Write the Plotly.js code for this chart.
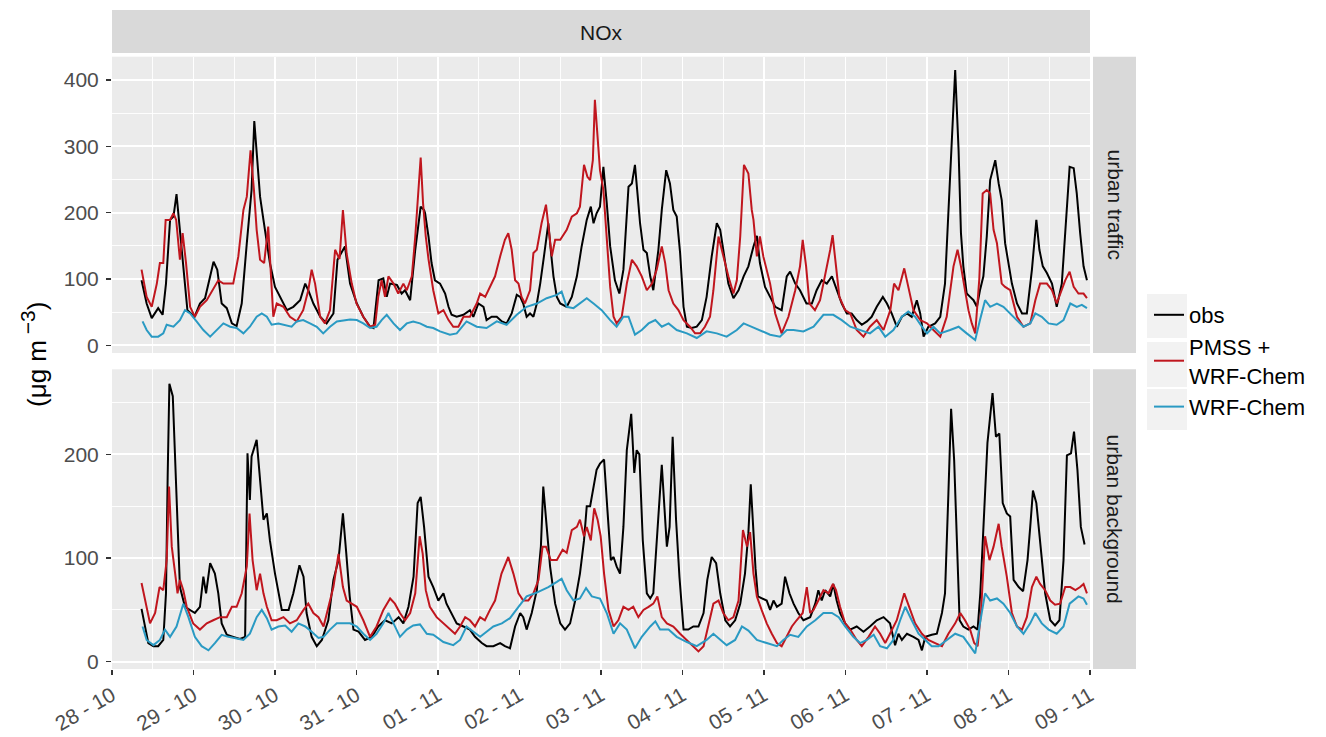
<!DOCTYPE html>
<html>
<head>
<meta charset="utf-8">
<script src="https://cdn.plot.ly/plotly-3.0.1.min.js"></script>
<style>html,body{margin:0;padding:0;background:#fff;}#chart{width:1326px;height:737px;}</style>
</head>
<body>
<div id="chart"></div>
<script>
// ---- Data (hours since 28-10 00:00, NOx in µg m-3) ----
const seriesNames = ["obs", "PMSS +<br>WRF-Chem", "WRF-Chem"];
const panelNames = ["urban traffic", "urban background"];
const dayLabels = ["28 - 10","29 - 10","30 - 10","31 - 10","01 - 11","02 - 11","03 - 11","04 - 11","05 - 11","06 - 11","07 - 11","08 - 11","09 - 11"];

// urban traffic: obs
const trafficObsHours = [8.7,10.2,11.7,12.7,13.6,14.9,15.9,17.1,18.1,19,19.8,20.8,22.2,24.3,25.9,27.4,28.4,29.9,31,32.3,33.8,35.3,36.7,38.2,39.7,41.1,41.9,42.6,43.6,44.6,45.6,46.5,48,51.5,53.4,55.4,56.9,57.8,59.3,61.3,63.2,65.2,66.4,67.4,68.6,70.1,72.1,74,76,77,78.5,79.9,80.9,81.9,83.9,85.3,86.3,87.8,89.3,90.9,91.9,92.2,93.2,94.1,95.1,96.6,98.1,99.1,100,101.5,103.5,105.4,106.4,107.9,109.4,110.3,111.8,113.3,114.8,116.2,117.7,119.2,120.2,121.1,122.1,123.1,124.1,125.1,126.1,127.2,128.5,129.2,130,131,132,133.9,135.4,136.9,138.3,139.8,141,141.8,142.7,143.7,144.7,145.7,146.7,148.1,149.4,150.6,152.1,153.1,154,155,155.5,156.5,157.5,158.5,159.4,160.9,161.9,163.2,164.3,165.3,166.3,167.3,168.3,169.3,170.7,172.2,173.7,175.1,176.6,178.1,179.1,180,181.5,183,184.5,186,187.4,188.9,189.9,190.8,192.3,193.8,195.3,197.2,198.7,199.7,201.2,202.6,204.5,206.1,207.5,209,210.5,212,213.4,214.9,216.4,217.8,219.3,220.8,222.3,223.7,225.2,227,228.2,229.6,231.1,232.6,234.1,235.5,237,238,239,240.4,242.4,243.9,245.3,246.5,248.3,249.3,250,250.7,251.7,252.7,253.7,254.7,255.6,256.6,257.6,258.6,260.1,261.1,262,263,264,265,266.5,268,269.4,270.9,272.2,273.1,274.1,275.3,276.8,278.2,279.7,280.7,282,283.2,284.1,285.1,286.1,287.1];
const trafficObs = [98,63,41,48,56,46,93,189,194,228,184,134,53,43,63,71,93,126,114,63,56,33,29,63,154,234,338,294,224,189,154,124,88,53,58,68,93,83,63,43,33,48,129,139,149,93,63,43,28,26,98,101,73,93,91,78,83,68,144,209,204,199,164,124,98,93,78,58,46,43,46,53,43,63,58,38,43,43,36,33,48,76,73,63,43,48,43,63,93,134,184,144,104,73,63,58,73,104,149,189,209,184,199,209,269,214,149,98,78,114,239,244,272,214,184,144,139,104,83,144,204,264,244,204,194,139,58,28,26,28,38,73,134,184,174,144,93,71,83,104,119,149,165,124,88,73,58,53,104,111,93,83,63,63,83,98,93,104,83,63,48,48,38,31,36,43,58,73,63,48,28,43,48,43,68,48,13,28,33,43,93,219,415,294,169,119,78,73,68,58,83,104,164,249,279,244,219,154,124,93,63,48,48,114,189,144,119,109,93,58,93,169,269,267,229,169,119,98];

// urban traffic: PMSS + WRF-Chem
const trafficPmssHours = [8.7,10.2,11.7,13.2,14.1,15.1,15.8,17.1,18.1,18.9,20,20.8,21.8,23,24.4,25.9,27.9,29.9,31.3,32.8,34.3,35.7,37.2,38.7,39.7,40.8,41.8,42.6,43.6,44.8,46,47,47.5,48.5,50.5,52.4,54.4,56.3,57.8,58.8,59.8,61.3,62.7,64.2,65.7,67,68,69.1,70.6,72,74,76,77.5,78.4,79.4,80.4,81.4,82.9,84.3,85.8,86.8,88.3,89.3,90.9,91.6,92.4,93.2,94.6,96.1,97.6,99.1,100.5,102,103.5,105.4,107.4,108.4,109.9,111.3,112.8,114.3,115.7,116.7,117.7,118.7,119.7,120.6,121.6,123.1,124.1,125.1,126.5,127.8,128.8,129.5,130.5,132,133.9,135.4,136.9,137.8,139,140,140.8,141.6,142.2,143,143.7,144.7,145.7,146.7,147.7,148.6,150.1,151.6,153.1,154.5,156,157.5,159,160.4,161.9,162.9,163.9,165.3,166.8,168.3,170.2,171.7,173.2,174.6,176.1,177.1,178.6,180,181.5,183,184,185,186.1,187.4,188.4,188.9,189.9,190.8,191.8,193.8,195.3,197.2,199.2,201.2,202.6,203.4,204.4,205.4,207,208.5,210,211.5,212.2,213.2,214.2,215.9,217.4,219.3,221.3,223.2,225.2,227.2,229.2,230.3,231.6,233.3,234.5,236,238,240,241.9,243.9,245.8,247.8,249,250,251.2,252.2,253.2,254.2,255.4,256.4,257.6,258.6,259.6,260.6,262,263,264.5,266.5,268.4,270.4,271.9,273.3,275.3,276.8,278.2,279.7,280.7,282,283.2,284.6,286.1,287.1];
const trafficPmss = [114,73,58,93,124,124,189,189,199,189,129,169,124,58,43,58,68,86,98,93,93,93,134,204,224,294,234,174,129,124,179,93,43,63,58,43,36,53,83,114,93,43,33,53,144,130,204,138,93,63,43,28,31,73,98,73,104,93,78,93,83,104,164,283,214,164,130,83,48,53,38,28,28,43,43,63,78,73,88,104,134,159,169,144,98,93,73,63,83,139,144,184,212,164,134,159,159,174,194,199,209,272,254,249,279,370,315,264,234,164,88,43,33,43,93,129,119,104,83,93,114,149,124,83,63,53,38,28,18,18,28,43,83,164,134,104,78,98,164,272,259,204,189,134,164,134,93,48,18,43,83,119,159,119,63,53,68,104,144,166,124,73,53,48,23,13,28,38,23,53,93,83,116,88,53,38,33,23,13,43,119,144,119,83,53,33,18,100,229,234,229,174,154,93,88,83,43,28,33,68,93,93,83,63,83,98,111,88,78,78,71];

// urban traffic: WRF-Chem
const trafficWrfHours = [9,10.2,11.7,13.6,15.1,16.1,18.1,20,21.5,23,24.9,26.9,28.9,30.8,32.8,34.8,36.7,38.7,40.6,42.6,44.1,45.6,47,49,51,52.9,54.4,56.3,58.3,60.3,62.2,64.2,66.2,68.1,70.1,72.1,74,76,77.9,79.4,80.9,82.9,84.8,86.8,88.7,90.7,92.7,94.6,96.6,99.5,101.5,104.4,107.4,110.3,113.3,116.2,119.2,122.1,125.1,128,131,132.4,133.9,135.9,137.8,139.8,141.8,144.2,146.7,148.6,150.6,152.1,154,156,158,160,161.9,163.9,166.3,169.3,172.2,175.1,178.1,181,184,186,187.9,190.8,193.8,196.7,198.7,200.7,203.6,206.6,209.5,212.4,214.9,217.4,220.3,223.2,225.7,227.7,230.1,232.6,234.5,236.5,238.5,240,241.9,243.9,246.8,249.3,251.7,254.2,255.6,257.1,258.6,260.6,262.5,264.5,266.5,268.4,270.4,271.9,273.8,275.8,278.2,280.2,282.2,284.1,285.6,287.1];
const trafficWrf = [36,23,13,13,18,31,28,38,53,48,36,23,13,23,33,28,26,18,28,43,48,43,31,33,31,28,36,38,33,28,18,28,36,38,39,38,33,26,28,38,46,33,23,33,36,33,28,26,21,16,18,36,28,26,36,31,46,58,63,71,76,81,58,56,63,71,63,53,38,28,43,43,16,23,33,38,28,33,23,18,11,21,18,13,23,33,29,23,16,13,23,23,21,28,46,46,38,28,23,18,28,13,23,43,51,43,28,18,28,18,23,28,18,8,38,68,58,63,58,48,38,28,33,48,43,33,31,38,63,58,61,56];

// urban background: obs
const backgroundObsHours = [8.7,9.7,10.7,12.2,13.6,15.1,15.9,16.4,16.9,17.9,18.6,19.3,20,21.5,23,24.4,25.9,26.9,27.7,28.9,30.3,31.3,32.3,33.8,35.7,37.7,39.2,39.9,40.6,41.1,42.6,43.6,44.6,45.6,46.5,48,50,52,53.4,55.2,56.4,57.3,58.8,60.3,61.8,63.7,65.2,66.7,68,69,70,71.1,72.6,74.5,76.5,78.4,80.4,82.4,84.4,85.8,87.3,88.8,90,90.9,91.9,93.2,94.6,96.1,97.6,98.5,100,101.5,103.5,105.4,106.9,108.9,110.3,112.3,114.3,115.7,117.2,118.7,120.2,121.1,122.1,123.6,125.1,126.3,127,127.8,129,130.5,132,133.4,134.9,136.4,137.8,139,139.8,140.8,141.8,142.7,143.7,144.9,145.9,146.9,147.7,148.6,149.6,150.6,151.6,152.9,153.8,154.5,155.3,156.3,157.5,158.5,159.4,160.6,161.9,162.9,163.4,164.2,165.1,166.1,167.1,168.3,169.7,171.2,172.7,174.2,175.3,176.6,177.9,179.1,180.6,182,183.5,185,186.4,187.4,188.1,188.9,189.5,190.2,191.3,192.8,193.8,194.8,195.8,197.2,198.2,199.5,200.7,202.1,203.6,205.6,207.1,208,209,210,211.5,212.4,213.4,214.4,215.9,217.4,219.3,221.3,223.2,225.2,227.2,229.1,230.6,231.6,232.6,234.1,236,237.5,238.5,239.5,241.4,242.9,244.4,245.3,246.3,247.1,248,248.8,249.6,250.7,252.2,253.7,254.9,255.7,256.6,257.8,259.3,260.3,261.3,262.3,263.5,264.5,265.5,267,268.3,269.6,270.4,271.2,272.2,273.3,274.8,276.3,277.7,279,280.2,281.2,282.4,283.3,284.3,285.3,286.4];
const backgroundObs = [51,34,18,15,15,21,66,180,268,256,194,130,72,53,50,47,53,82,66,95,85,66,37,26,24,22,24,201,156,198,214,178,137,143,117,85,50,50,66,93,82,47,24,15,21,40,79,98,143,104,63,31,29,21,24,34,40,37,43,37,53,82,153,159,130,82,72,59,66,56,47,37,34,31,24,18,15,15,18,15,13,34,47,43,31,47,69,111,169,137,92,56,37,31,37,59,85,117,150,150,169,185,191,195,146,98,101,92,85,130,204,239,182,204,200,117,66,61,66,130,190,137,111,130,217,137,82,31,31,34,34,47,79,101,95,66,40,34,40,56,85,124,171,125,90,63,61,59,50,59,53,56,82,66,56,47,40,43,56,69,59,69,63,75,59,47,37,31,34,29,34,40,43,37,16,27,21,27,24,21,11,24,26,27,47,66,162,244,194,114,40,34,31,34,31,66,130,211,259,217,220,153,143,140,79,72,68,98,130,165,153,117,66,40,35,40,98,199,201,222,185,130,113];

// urban background: PMSS + WRF-Chem
const backgroundPmssHours = [8.7,9.7,11.2,12.7,14,15.1,16.1,16.8,17.6,18.6,19.3,20,21,22,23.9,25.9,27.9,29.8,31.8,33.8,35.3,36.7,38.2,39.7,40.5,41.4,42.6,43.6,44.6,45.6,47,48.5,50.5,52.4,54.4,56.4,57.8,59.3,60.8,62.3,63.7,65.2,66.7,68,69.1,70.6,72.1,74,76,77.9,79.9,81.9,83.3,84.8,86.3,87.8,89.3,90.6,91.5,92.4,93.6,95.6,97.6,99.5,101,102.5,104,105.4,106.9,108.4,109.8,111.3,112.8,114.7,116.7,118.2,119.7,121.1,122.6,124.1,125.6,126.8,127.8,129.2,131,132.7,133.9,135.4,136.9,137.8,139,139.8,141,142,143,143.9,144.9,146.2,147.7,149.1,150.6,152.1,153.5,155,156.5,158,159.4,160.6,161.9,163.4,165.3,167.3,169.3,171.2,172.7,174.2,175.6,177.1,178.6,180,181.5,183,184.5,185.8,187,187.9,188.9,189.9,191.3,192.8,194.3,195.8,197.2,198.7,200.2,201.6,203.4,204.6,205.6,206.6,208,209.5,211,212.3,213.2,214.4,215.9,217.4,219.3,220.8,222.8,224.7,226.2,227.7,229.1,231.1,233.3,234.8,236.5,238.5,240.4,242.4,244.4,246.3,248.3,249.8,251.2,252.7,253.9,254.9,255.9,257.1,258.4,259.6,261.1,262,263.5,265,266.5,268,269.4,270.9,272.2,273.3,274.8,276.3,277.7,279.2,280.7,282.2,283.7,285.1,286.1,287.1];
const backgroundPmss = [76,59,37,47,72,69,98,169,111,85,66,79,69,53,37,31,37,40,43,43,53,53,66,92,143,98,69,85,66,53,40,40,43,37,40,50,56,47,43,34,53,72,104,72,59,56,53,40,24,34,50,61,56,47,40,47,66,121,104,69,53,43,37,31,27,34,43,40,34,43,40,50,59,85,101,85,66,59,59,66,79,111,111,98,98,108,105,127,130,137,121,130,117,148,137,121,85,50,34,40,53,50,53,43,50,53,56,63,43,37,34,27,21,15,10,15,34,56,59,47,40,43,59,127,111,125,85,63,50,37,27,18,15,24,34,40,47,72,47,50,59,69,66,75,69,53,37,31,21,15,24,34,27,18,27,40,66,53,37,27,21,18,15,27,37,47,40,31,18,15,47,121,98,111,133,111,82,47,34,31,43,72,82,75,69,59,55,56,72,72,69,72,75,66];

// urban background: WRF-Chem
const backgroundWrfHours = [9,10.2,12.2,14.1,15.6,17.1,19,21,22.5,24.4,26.4,28.4,30.3,32.3,34.3,36.7,38.7,40.6,42.6,44.1,45.6,47,49,51,52.9,54.9,56.9,58.8,60.8,62.3,64.2,66.2,68.1,70.1,72.1,74,76,77.9,79.9,81.4,82.9,84.8,86.8,88.7,90.7,92.7,94.6,97.6,100.5,102.5,104.4,106.4,108.4,110.3,112.3,114.8,117.2,119.7,122.1,124.6,126.5,128.5,131,132.4,133.9,135.9,137.8,139.6,141.3,143.7,145.7,147.7,149.6,151.6,154,156,158.5,160,161.4,163.9,166.3,169.3,172.2,175.1,177.1,179.1,181,183.5,185.5,187.4,189.9,192.8,195.8,197.7,199.7,202.1,204.6,207.1,209.5,212,214,215.9,218.3,220.3,222.3,224.3,226.2,228.2,230.1,232.1,233.6,235.5,237.5,239.5,241.4,243.4,245.8,248.3,250.7,252.7,254.2,255.6,257.1,258.6,260.6,262.5,264.5,266.5,268.4,270.4,271.9,273.8,275.8,278.2,280.2,282,283.2,284.6,286.1,287.1];
const backgroundWrf = [34,21,16,21,31,24,34,56,43,24,15,11,18,26,24,22,21,27,43,50,42,31,34,35,29,37,34,29,23,24,31,37,37,37,34,27,21,27,37,47,37,24,31,35,36,27,26,19,16,21,34,29,24,29,34,37,42,53,63,66,69,72,77,80,69,59,61,71,63,61,47,27,37,31,13,24,34,39,31,31,24,19,15,21,27,21,16,21,34,30,21,18,15,21,26,24,34,40,47,47,43,34,24,18,21,26,15,13,21,40,53,40,27,21,15,15,21,27,24,15,8,37,66,59,61,56,47,34,27,37,47,37,31,27,34,56,59,63,61,55];

// ---- Build ----
const startMs = Date.UTC(2017, 9, 28);
function pad(n){return (n<10?'0':'')+n;}
function toDate(h){
  const d = new Date(startMs + Math.round(h*60)*60000);
  return d.getUTCFullYear()+'-'+pad(d.getUTCMonth()+1)+'-'+pad(d.getUTCDate())+' '+pad(d.getUTCHours())+':'+pad(d.getUTCMinutes());
}
const colors = ['#000000', '#C0161E', '#2A9AC3'];
const panels = [
  {axis:'y2', data:[[trafficObsHours,trafficObs],[trafficPmssHours,trafficPmss],[trafficWrfHours,trafficWrf]]},
  {axis:'y',  data:[[backgroundObsHours,backgroundObs],[backgroundPmssHours,backgroundPmss],[backgroundWrfHours,backgroundWrf]]}
];
const traces = [];
panels.forEach((p, pi) => {
  p.data.forEach((s, si) => {
    traces.push({
      type:'scatter', mode:'lines', name: seriesNames[si], legendgroup: 's'+si,
      showlegend: pi === 0,
      x: s[0].map(toDate), y: s[1], xaxis:'x', yaxis:p.axis,
      line:{color:colors[si], width:2}
    });
  });
});

const W = 1326, H = 737;
const px = v => v / W, py = v => 1 - v / H;
const tickVals = dayLabels.map((_, i) => toDate(i*24));

const gridCommon = {
  showgrid:true, gridcolor:'#FFFFFF', gridwidth:1.8, zeroline:false, showline:false,
  ticks:'outside', ticklen:5, tickwidth:1.4, tickcolor:'#333333',
  tickfont:{size:21, color:'#4D4D4D'}, fixedrange:true
};

const layout = {
  width:W, height:H, margin:{l:0,r:0,t:0,b:0},
  paper_bgcolor:'#FFFFFF', plot_bgcolor:'#EBEBEB',
  font:{family:'"Liberation Sans", Arial, sans-serif', color:'#4D4D4D'},
  xaxis: Object.assign({}, gridCommon, {
    type:'date', anchor:'y', domain:[px(112), px(1090)],
    range:[toDate(0), toDate(288)],
    tickmode:'array', tickvals:tickVals, ticktext:dayLabels, tickangle:-30,
    minor:{dtick:43200000, tick0:toDate(0), showgrid:true, gridcolor:'#FFFFFF', gridwidth:0.9, ticks:''}
  }),
  yaxis: Object.assign({}, gridCommon, {
    anchor:'x', domain:[py(669), py(369.3)], range:[-7, 282], ticklabelstandoff:3,
    tickmode:'array', tickvals:[0,100,200],
    minor:{tickvals:[50,150,250], showgrid:true, gridcolor:'#FFFFFF', gridwidth:0.9, ticks:''}
  }),
  yaxis2: Object.assign({}, gridCommon, {
    anchor:'x', domain:[py(353), py(56.7)], range:[-11.6, 435], ticklabelstandoff:3,
    tickmode:'array', tickvals:[0,100,200,300,400],
    minor:{tickvals:[50,150,250,350], showgrid:true, gridcolor:'#FFFFFF', gridwidth:0.9, ticks:''}
  }),
  showlegend:true,
  legend:{
    x:px(1149), y:py(294), xanchor:'left', yanchor:'top',
    bgcolor:'rgba(0,0,0,0)', font:{size:22, color:'#000000'},
    tracegroupgap:0, itemwidth:30, traceorder:'normal', valign:'middle'
  },
  shapes:[
    {type:'rect', xref:'paper', yref:'paper', x0:px(112), x1:px(1090), y0:py(53), y1:py(10), fillcolor:'#D9D9D9', line:{width:0}, layer:'below'},
    {type:'rect', xref:'paper', yref:'paper', x0:px(1093), x1:px(1136), y0:py(353), y1:py(56.7), fillcolor:'#D9D9D9', line:{width:0}, layer:'below'},
    {type:'rect', xref:'paper', yref:'paper', x0:px(1093), x1:px(1136), y0:py(669), y1:py(369.3), fillcolor:'#D9D9D9', line:{width:0}, layer:'below'},
    {type:'rect', xref:'paper', yref:'paper', x0:px(1147), x1:px(1187), y0:py(338), y1:py(294), fillcolor:'#F2F2F2', line:{width:0}, layer:'below'},
    {type:'rect', xref:'paper', yref:'paper', x0:px(1147), x1:px(1187), y0:py(387), y1:py(342), fillcolor:'#F2F2F2', line:{width:0}, layer:'below'},
    {type:'rect', xref:'paper', yref:'paper', x0:px(1147), x1:px(1187), y0:py(430), y1:py(389), fillcolor:'#F2F2F2', line:{width:0}, layer:'below'}
  ],
  annotations:[
    {text:'NOx', xref:'paper', yref:'paper', x:px(601), y:py(32), xanchor:'center', yanchor:'middle', showarrow:false, font:{size:21, color:'#1A1A1A'}},
    {text:panelNames[0], xref:'paper', yref:'paper', x:px(1114.5), y:py(205), xanchor:'center', yanchor:'middle', showarrow:false, textangle:90, font:{size:21, color:'#1A1A1A'}},
    {text:panelNames[1], xref:'paper', yref:'paper', x:px(1114.5), y:py(519), xanchor:'center', yanchor:'middle', showarrow:false, textangle:90, font:{size:21, color:'#1A1A1A'}},
    {text:'(μg m<sup><span style="font-size:21px"> −3</span></sup>)', xref:'paper', yref:'paper', x:px(34), y:py(355), xanchor:'center', yanchor:'middle', showarrow:false, textangle:-90, font:{size:26, color:'#000000'}}
  ]
};

Plotly.newPlot('chart', traces, layout, {staticPlot:true, displayModeBar:false});
</script>
</body>
</html>
